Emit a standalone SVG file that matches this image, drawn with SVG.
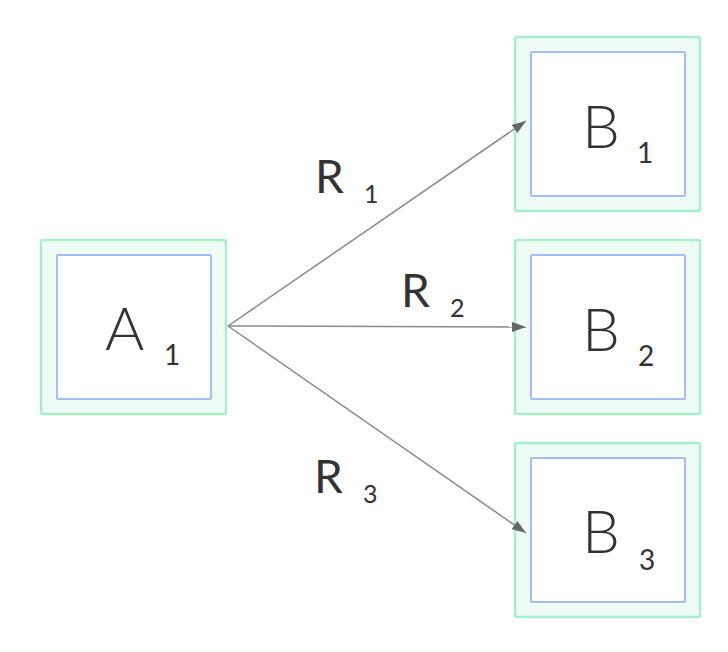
<svg xmlns="http://www.w3.org/2000/svg" width="728" height="652" viewBox="0 0 728 652">
<style>
.outer{fill:#effcf6;stroke:#a6eecf;stroke-width:2.5}
.inner{fill:#ffffff;stroke:#a4bff5;stroke-width:2}
.big{font-family:Lato,"Noto Sans",sans-serif;font-weight:300;font-size:60px;fill:#333}
.sub{font-family:Lato,"Noto Sans",sans-serif;font-weight:400;font-size:28px;fill:#333}
.rl{font-family:Lato,"Noto Sans",sans-serif;font-weight:400;font-size:46px;fill:#333}
.rs{font-family:Lato,"Noto Sans",sans-serif;font-weight:400;font-size:25px;fill:#333}
.edge{stroke:#8a8a8a;stroke-width:1.5;fill:none;marker-end:url(#arr)}
</style>
<defs>
<marker id="arr" viewBox="0 0 14 10" refX="14" refY="5" markerWidth="14" markerHeight="10" markerUnits="userSpaceOnUse" orient="auto">
<path d="M0,0 L14,5 L0,10 z" fill="#666"/>
</marker>
</defs>
<rect width="728" height="652" fill="#ffffff"/>
<g id="A1">
<rect class="outer" x="41" y="240" width="185" height="174" rx="2"/>
<rect class="inner" x="57" y="255" width="154" height="144" rx="1"/>
<text class="big" x="105" y="350">A</text><text class="sub" x="164" y="365">1</text>
</g>
<g id="B1">
<rect class="outer" x="515" y="37" width="185" height="174" rx="2"/>
<rect class="inner" x="531" y="52" width="154" height="144" rx="1"/>
<text class="big" x="582" y="148">B</text><text class="sub" x="637" y="163">1</text>
</g>
<g id="B2">
<rect class="outer" x="515" y="240" width="185" height="174" rx="2"/>
<rect class="inner" x="531" y="255" width="154" height="144" rx="1"/>
<text class="big" x="582" y="351">B</text><text class="sub" x="638" y="366">2</text>
</g>
<g id="B3">
<rect class="outer" x="515" y="443" width="185" height="174" rx="2"/>
<rect class="inner" x="531" y="458" width="154" height="144" rx="1"/>
<text class="big" x="582" y="553">B</text><text class="sub" x="639" y="570">3</text>
</g>
<g id="edges">
<line class="edge" x1="228" y1="326" x2="526" y2="121"/>
<line class="edge" x1="228" y1="326" x2="526" y2="327"/>
<line class="edge" x1="228" y1="326" x2="526" y2="533"/>
<text class="rl" x="315" y="193">R</text><text class="rs" x="364" y="203">1</text>
<text class="rl" x="401" y="307">R</text><text class="rs" x="450" y="317">2</text>
<text class="rl" x="314" y="493">R</text><text class="rs" x="363" y="503">3</text>
</g>
</svg>
